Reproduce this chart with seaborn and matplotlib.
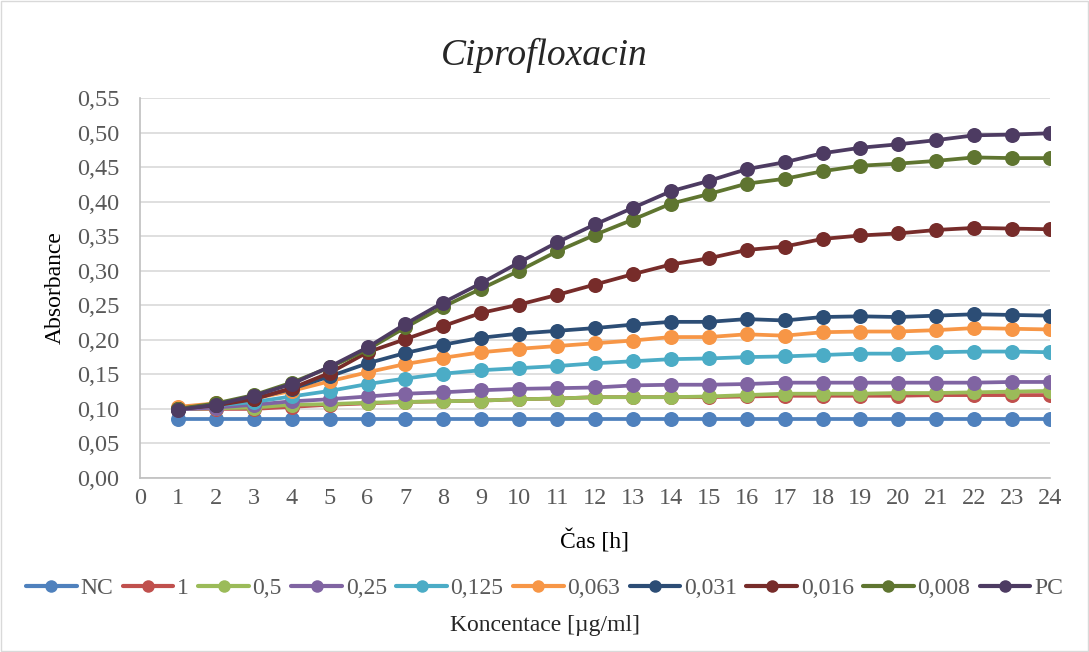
import numpy as np
import pandas as pd
import seaborn as sns
import matplotlib.pyplot as plt
from matplotlib.patches import Rectangle

hours = list(range(1, 25))
series_names = ["NC", "1", "0,5", "0,25", "0,125", "0,063", "0,031", "0,016", "0,008", "PC"]

nc = [0.085] * 24
c_1 = [0.100, 0.100, 0.100, 0.103, 0.106, 0.108, 0.110, 0.111, 0.112, 0.114, 0.115, 0.117,
       0.117, 0.117, 0.117, 0.118, 0.119, 0.119, 0.119, 0.119, 0.120, 0.120, 0.120, 0.120]
c_05 = [0.100, 0.101, 0.102, 0.106, 0.107, 0.109, 0.110, 0.111, 0.112, 0.114, 0.115, 0.117,
        0.117, 0.117, 0.118, 0.120, 0.122, 0.122, 0.122, 0.123, 0.123, 0.124, 0.125, 0.126]
c_025 = [0.099, 0.102, 0.106, 0.111, 0.114, 0.118, 0.122, 0.124, 0.127, 0.129, 0.130, 0.131,
         0.134, 0.135, 0.135, 0.136, 0.138, 0.138, 0.138, 0.138, 0.138, 0.138, 0.139, 0.139]
c_0125 = [0.101, 0.105, 0.110, 0.118, 0.126, 0.136, 0.144, 0.151, 0.156, 0.159, 0.162, 0.166,
          0.169, 0.172, 0.173, 0.175, 0.176, 0.178, 0.180, 0.180, 0.182, 0.183, 0.183, 0.182]
c_0063 = [0.103, 0.108, 0.115, 0.126, 0.140, 0.153, 0.165, 0.174, 0.182, 0.187, 0.191, 0.195,
          0.199, 0.204, 0.204, 0.208, 0.206, 0.211, 0.212, 0.212, 0.214, 0.217, 0.216, 0.215]
c_0031 = [0.100, 0.106, 0.115, 0.129, 0.147, 0.166, 0.181, 0.193, 0.203, 0.209, 0.213, 0.217,
          0.222, 0.226, 0.226, 0.230, 0.228, 0.233, 0.234, 0.233, 0.235, 0.237, 0.236, 0.235]
c_0016 = [0.100, 0.105, 0.114, 0.130, 0.152, 0.182, 0.201, 0.220, 0.239, 0.251, 0.265, 0.280,
          0.295, 0.309, 0.318, 0.330, 0.335, 0.346, 0.351, 0.354, 0.359, 0.362, 0.361, 0.360]
c_0008 = [0.100, 0.108, 0.120, 0.138, 0.160, 0.186, 0.218, 0.248, 0.274, 0.300, 0.328, 0.352,
          0.374, 0.397, 0.411, 0.426, 0.433, 0.444, 0.452, 0.455, 0.459, 0.464, 0.463, 0.463]
pc = [0.099, 0.106, 0.119, 0.136, 0.161, 0.189, 0.223, 0.254, 0.282, 0.312, 0.341, 0.367,
      0.391, 0.415, 0.430, 0.447, 0.457, 0.470, 0.478, 0.483, 0.489, 0.496, 0.497, 0.499]

colors = ["#4F81BD", "#C0504D", "#9BBB59", "#8064A2", "#4BACC6",
          "#F79646", "#2C4D75", "#772C2A", "#5F7530", "#4D3B62"]

all_vals = [nc, c_1, c_05, c_025, c_0125, c_0063, c_0031, c_0016, c_0008, pc]
df = pd.DataFrame({
    "Čas": hours * len(series_names),
    "Absorbance": np.concatenate(all_vals),
    "Koncentrace": np.repeat(series_names, len(hours)),
})

sns.set_style("white")
plt.rcParams["font.family"] = ["Liberation Serif", "DejaVu Serif"]

fig = plt.figure(figsize=(10.89, 6.52), dpi=100)
ax = fig.add_axes([140 / 1089, 1 - 478 / 652, 910 / 1089, 380 / 652])

sns.lineplot(data=df, x="Čas", y="Absorbance", hue="Koncentrace",
             hue_order=series_names, palette=colors, marker="o",
             markersize=10.8, markeredgewidth=0, linewidth=2.7, ax=ax, legend=True)

ax.set_xlim(0, 24)
ax.set_ylim(0, 0.55)
ax.set_xticks(range(0, 25))
ax.set_yticks(np.arange(0, 0.551, 0.05))
ax.set_yticklabels([f"{v:.2f}".replace(".", ",") for v in np.arange(0, 0.551, 0.05)])
ax.tick_params(axis="both", labelsize=17.5, length=0, colors="#595959")
ax.tick_params(axis="y", pad=15)
ax.tick_params(axis="x", pad=7)
ax.grid(axis="y", color="#D9D9D9", linewidth=1.2)
ax.set_axisbelow(True)
for s in ["right", "top"]:
    ax.spines[s].set_visible(False)
for s in ["left", "bottom"]:
    ax.spines[s].set_color("#BFBFBF")
    ax.spines[s].set_linewidth(1.2)

ax.set_xlabel("Čas [h]", fontsize=17, color="black", labelpad=15)
ax.set_ylabel("Absorbance", fontsize=17, color="black", labelpad=8)
fig.text(0.5, 1 - 55 / 652, "Ciprofloxacin", ha="center", va="center",
         fontsize=27, style="italic")

handles, labels = ax.get_legend_handles_labels()
ax.get_legend().remove()
for h in handles:
    h.set_markersize(9)
    h.set_markeredgewidth(0)
    h.set_linewidth(3)
leg = fig.legend(handles, labels, loc="center", bbox_to_anchor=(0.5, 1 - 588 / 652),
                 ncol=10, frameon=False, fontsize=17, handlelength=2.15,
                 columnspacing=0.4, handletextpad=0.15)
for t in leg.get_texts():
    t.set_color("#595959")
fig.text(0.5, 1 - 625 / 652, "Koncentace [µg/ml]", ha="center", va="center", fontsize=17)

fig.patches.append(Rectangle((0.001, 0.001), 0.998, 0.997, transform=fig.transFigure,
                             fill=False, edgecolor="#D9D9D9", linewidth=1))

fig.savefig("out.png", dpi=100)
